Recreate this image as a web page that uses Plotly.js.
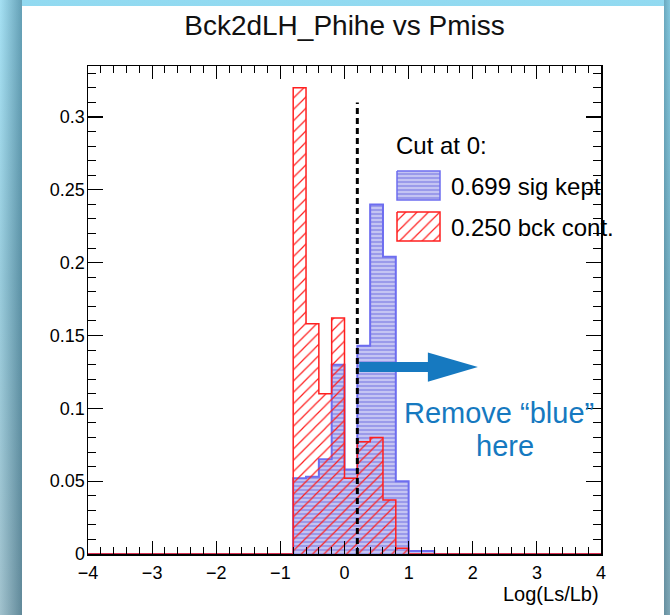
<!DOCTYPE html>
<html>
<head>
<meta charset="utf-8">
<script src="https://cdn.plot.ly/plotly-3.0.1.min.js"></script>
<style>
  html, body { margin: 0; padding: 0; }
  body {
    width: 670px; height: 615px; overflow: hidden; position: relative;
    background: linear-gradient(to bottom, #92daf1 0%, #84c2d6 45%, #8db5c3 100%);
  }
  #shadeL { position: absolute; left: 0; top: 0; width: 22px; height: 615px;
    background: linear-gradient(to right, rgba(255,255,255,0.18), rgba(25,65,85,0.38)); }
  #shadeR { position: absolute; left: 664px; top: 0; width: 6px; height: 615px;
    background: linear-gradient(to right, rgba(25,65,85,0.32), rgba(25,65,85,0.12)); }
  #panel { position: absolute; left: 22px; top: 6px; width: 642px; height: 609px; background: #ffffff; }
  #chart { position: absolute; left: 0; top: 0; width: 670px; height: 615px; }
</style>
</head>
<body>
<div id="shadeL"></div>
<div id="shadeR"></div>
<div id="panel"></div>
<div id="chart"></div>
<script>
// Normalised Log(Ls/Lb) distributions, bins of width 0.2 (lower edges listed)
const binLow   = [-0.8, -0.6, -0.4, -0.2, 0.0, 0.2, 0.4, 0.6, 0.8, 1.0, 1.2];
const sigFrac  = [0.052, 0.053, 0.065, 0.130, 0.058, 0.143, 0.240, 0.204, 0.050, 0.002, 0.002];
const bckFrac  = [0.320, 0.158, 0.110, 0.162, 0.052, 0.077, 0.080, 0.037, 0.004, 0.000, 0.000];
const binWidth = 0.2;
const xRange   = [-4, 4];
const cutValue = 0;      // selection: keep bins with lower edge >= cutValue
const cutLineX = 0.2;    // dashed marker of the cut
const cutLineTop = 0.31;

const FONT = 'Liberation Sans, Arial, Helvetica, sans-serif';
const BLUE_LINE = '#6d6df0';
const RED_LINE = '#ff1f1f';
const NOTE_BLUE = '#1679c0';

// Step outline of a histogram spanning the full axis range
function stepXY(vals) {
  const x = [xRange[0]], y = [0];
  for (let i = 0; i < binLow.length; i++) { x.push(binLow[i]); y.push(vals[i]); }
  x.push(binLow[binLow.length - 1] + binWidth); y.push(0);
  x.push(xRange[1]); y.push(0);
  return { x, y };
}

function keptFraction(vals) {
  let s = 0;
  for (let i = 0; i < binLow.length; i++) if (binLow[i] >= cutValue - 1e-9) s += vals[i];
  return s;
}

const sigPattern = { shape: '-', fgcolor: 'rgba(255,255,255,0.7)', bgcolor: '#9a9aea', size: 4, solidity: 0.3 };
const bckPattern = { shape: '/', fgcolor: RED_LINE, bgcolor: 'rgba(0,0,0,0)', size: 8, solidity: 0.15 };

const sig = stepXY(sigFrac);
const bck = stepXY(bckFrac);

// Legend swatch geometry in pixel units of the overlay axes
function box(x0, y0, w, h) {
  return { x: [x0, x0 + w, x0 + w, x0, x0], y: [y0, y0, y0 + h, y0 + h, y0] };
}
const swSig = box(397, 171, 43, 29);
const swBck = box(397, 212, 43, 29);

const traces = [
  { x: sig.x, y: sig.y, type: 'scatter', mode: 'lines', line: { shape: 'hv', color: BLUE_LINE, width: 2 },
    fill: 'tozeroy', fillcolor: '#9a9aea', fillpattern: sigPattern, hoverinfo: 'skip', showlegend: false },
  { x: bck.x, y: bck.y, type: 'scatter', mode: 'lines', line: { shape: 'hv', color: RED_LINE, width: 1.5 },
    fill: 'tozeroy', fillcolor: RED_LINE, fillpattern: bckPattern, hoverinfo: 'skip', showlegend: false },
  { x: swSig.x, y: swSig.y, xaxis: 'x2', yaxis: 'y2', type: 'scatter', mode: 'lines',
    line: { color: BLUE_LINE, width: 1.5 }, fill: 'toself', fillcolor: '#9a9aea', fillpattern: sigPattern,
    hoverinfo: 'skip', showlegend: false },
  { x: swBck.x, y: swBck.y, xaxis: 'x2', yaxis: 'y2', type: 'scatter', mode: 'lines',
    line: { color: RED_LINE, width: 1.5 }, fill: 'toself', fillcolor: RED_LINE, fillpattern: bckPattern,
    hoverinfo: 'skip', showlegend: false }
];

const axisCommon = {
  showline: true, linecolor: '#000', linewidth: 1.5, mirror: 'ticks', ticks: 'inside',
  tickcolor: '#000', tickwidth: 1.2, showgrid: false, zeroline: false,
  tickfont: { family: FONT, size: 18, color: '#000' }
};

const layout = {
  width: 670, height: 615,
  margin: { l: 88, r: 69, t: 66, b: 61 },
  paper_bgcolor: 'rgba(0,0,0,0)', plot_bgcolor: 'rgba(0,0,0,0)',
  title: { text: 'Bck2dLH_Phihe vs Pmiss', font: { family: FONT, size: 28, color: '#111' },
           xref: 'paper', x: 0.5, xanchor: 'center', yref: 'container', y: 1 - 25 / 615, yanchor: 'middle' },
  xaxis: Object.assign({}, axisCommon, {
    range: xRange, dtick: 1, ticklen: 13, ticklabelstandoff: 2,
    minor: { dtick: 0.2, ticks: 'inside', ticklen: 7, tickwidth: 1, tickcolor: '#000' }
  }),
  yaxis: Object.assign({}, axisCommon, {
    range: [0, 0.335], dtick: 0.05, ticklen: 15, ticklabelstandoff: -2,
    minor: { dtick: 0.01, ticks: 'inside', ticklen: 8, tickwidth: 1, tickcolor: '#000' }
  }),
  xaxis2: { overlaying: 'x', range: [88, 601], visible: false, fixedrange: true },
  yaxis2: { overlaying: 'y', range: [554, 66], visible: false, fixedrange: true },
  shapes: [
    { type: 'line', xref: 'x', yref: 'y', x0: cutLineX, x1: cutLineX, y0: 0, y1: cutLineTop,
      line: { color: '#000', width: 3, dash: '6px,4px' } },
    { type: 'line', xref: 'x', yref: 'y', x0: cutLineX + 0.03, x1: 1.32, y0: 0.1283, y1: 0.1283,
      line: { color: NOTE_BLUE, width: 10 } },
    { type: 'path', xref: 'x', yref: 'y', path: 'M 1.30 0.1383 L 2.08 0.1283 L 1.30 0.1183 Z',
      fillcolor: NOTE_BLUE, line: { width: 0 } }
  ],
  annotations: [
    { xref: 'x2', yref: 'y2', x: 394, y: 145, xanchor: 'left', yanchor: 'middle', showarrow: false,
      text: 'Cut at ' + cutValue + ':', font: { family: FONT, size: 24, color: '#000' } },
    { xref: 'x2', yref: 'y2', x: 449, y: 186, xanchor: 'left', yanchor: 'middle', showarrow: false,
      text: keptFraction(sigFrac).toFixed(3) + ' sig kept', font: { family: FONT, size: 24, color: '#000' } },
    { xref: 'x2', yref: 'y2', x: 449, y: 227, xanchor: 'left', yanchor: 'middle', showarrow: false,
      text: keptFraction(bckFrac).toFixed(3) + ' bck cont.', font: { family: FONT, size: 24, color: '#000' } },
    { xref: 'x2', yref: 'y2', x: 499, y: 413, xanchor: 'center', yanchor: 'middle', showarrow: false,
      text: 'Remove “blue”', font: { family: FONT, size: 29, color: NOTE_BLUE } },
    { xref: 'x2', yref: 'y2', x: 505, y: 446, xanchor: 'center', yanchor: 'middle', showarrow: false,
      text: 'here', font: { family: FONT, size: 29, color: NOTE_BLUE } },
    { xref: 'paper', yref: 'paper', x: 1, y: 0, xanchor: 'right', yanchor: 'top', yshift: -27, showarrow: false,
      text: 'Log(Ls/Lb)', font: { family: FONT, size: 20, color: '#000' } }
  ]
};

Plotly.newPlot('chart', traces, layout, { displayModeBar: false, staticPlot: true });
</script>
</body>
</html>
